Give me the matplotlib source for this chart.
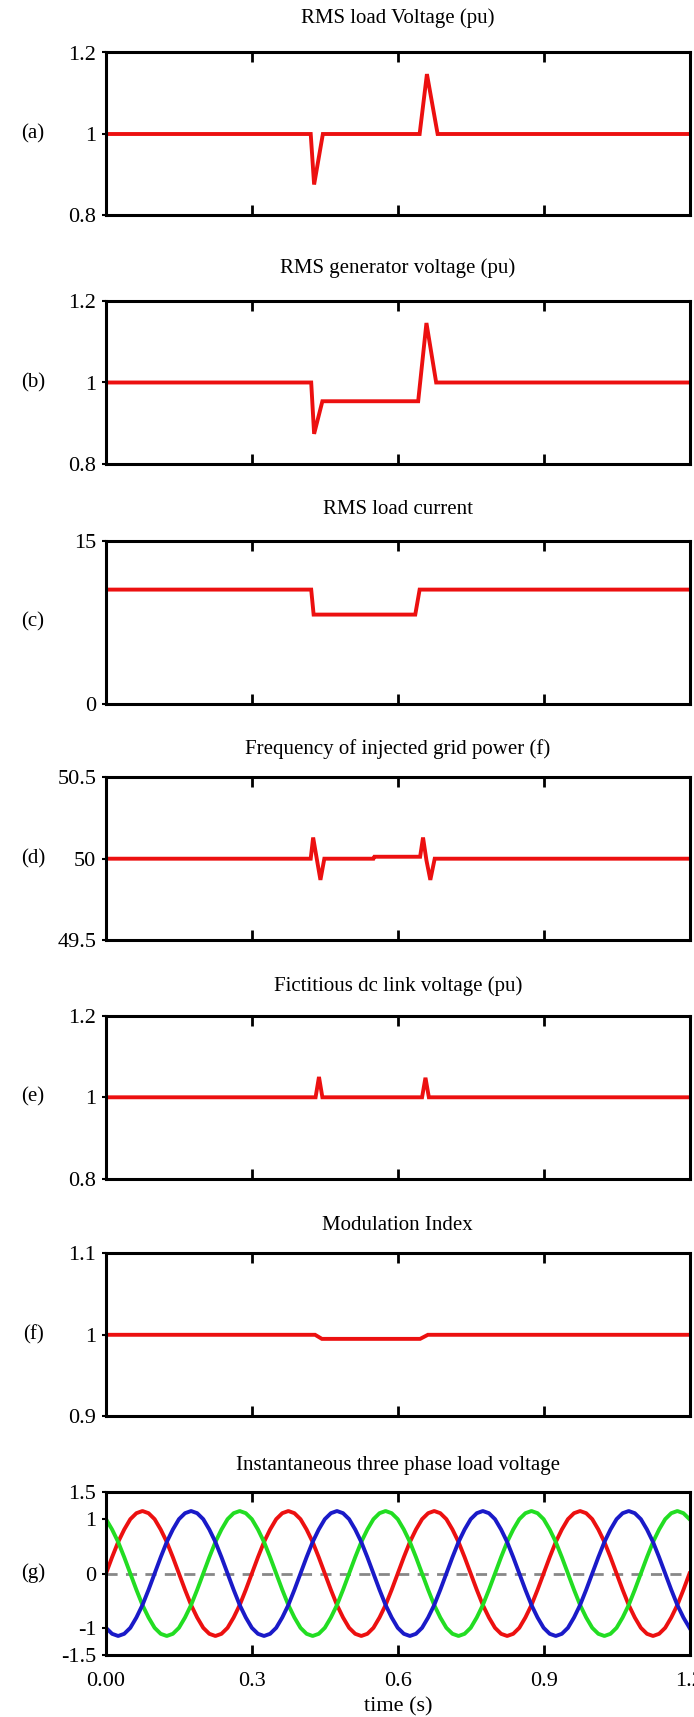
import matplotlib
matplotlib.use("Agg")
import matplotlib.pyplot as plt
import numpy as np

plt.rcParams['font.family'] = ['Liberation Serif', 'DejaVu Serif']
plt.rcParams['font.size'] = 16

# (a) RMS load voltage
t_a = [0, 0.421, 0.428, 0.446, 0.645, 0.660, 0.682, 1.2]
v_a = [1, 1, 0.876, 1, 1, 1.147, 1, 1]
# (b) RMS generator voltage
t_b = [0, 0.422, 0.428, 0.445, 0.642, 0.659, 0.679, 1.2]
v_b = [1, 1, 0.874, 0.954, 0.954, 1.146, 1, 1]
# (c) RMS load current
t_c = [0, 0.422, 0.427, 0.636, 0.645, 1.2]
v_c = [10.5, 10.5, 8.2, 8.2, 10.5, 10.5]
# (d) frequency
t_d = [0, 0.421, 0.426, 0.434, 0.441, 0.449, 0.55, 0.552, 0.646, 0.652, 0.659, 0.667, 0.676, 1.2]
v_d = [50, 50, 50.13, 49.99, 49.87, 50, 50, 50.012, 50.012, 50.13, 49.99, 49.87, 50, 50]
# (e) fictitious dc link voltage
t_e = [0, 0.431, 0.438, 0.445, 0.650, 0.657, 0.664, 1.2]
v_e = [1, 1, 1.05, 1, 1, 1.048, 1, 1]
# (f) modulation index
t_f = [0, 0.43, 0.444, 0.646, 0.662, 1.2]
v_f = [1, 1, 0.995, 0.995, 1, 1]

# (g) instantaneous three phase load voltage, sampled every 0.0125 s
t_g = np.arange(97) * 0.0125
v_red = [
    0, 0.30, 0.58, 0.81, 1.00, 1.11, 1.15, 1.11, 1.00, 0.81, 0.58, 0.30, 0, -0.30, -0.58, -0.81, -1.00, -1.11, -1.15, -1.11, -1.00, -0.81, -0.58, -0.30,
    0, 0.30, 0.58, 0.81, 1.00, 1.11, 1.15, 1.11, 1.00, 0.81, 0.58, 0.30, 0, -0.30, -0.58, -0.81, -1.00, -1.11, -1.15, -1.11, -1.00, -0.81, -0.58, -0.30,
    0, 0.30, 0.58, 0.81, 1.00, 1.11, 1.15, 1.11, 1.00, 0.81, 0.58, 0.30, 0, -0.30, -0.58, -0.81, -1.00, -1.11, -1.15, -1.11, -1.00, -0.81, -0.58, -0.30,
    0, 0.30, 0.58, 0.81, 1.00, 1.11, 1.15, 1.11, 1.00, 0.81, 0.58, 0.30, 0, -0.30, -0.58, -0.81, -1.00, -1.11, -1.15, -1.11, -1.00, -0.81, -0.58, -0.30,
    0]
v_blue = [
    -1.00, -1.11, -1.15, -1.11, -1.00, -0.81, -0.58, -0.30, 0, 0.30, 0.58, 0.81, 1.00, 1.11, 1.15, 1.11, 1.00, 0.81, 0.58, 0.30, 0, -0.30, -0.58, -0.81,
    -1.00, -1.11, -1.15, -1.11, -1.00, -0.81, -0.58, -0.30, 0, 0.30, 0.58, 0.81, 1.00, 1.11, 1.15, 1.11, 1.00, 0.81, 0.58, 0.30, 0, -0.30, -0.58, -0.81,
    -1.00, -1.11, -1.15, -1.11, -1.00, -0.81, -0.58, -0.30, 0, 0.30, 0.58, 0.81, 1.00, 1.11, 1.15, 1.11, 1.00, 0.81, 0.58, 0.30, 0, -0.30, -0.58, -0.81,
    -1.00, -1.11, -1.15, -1.11, -1.00, -0.81, -0.58, -0.30, 0, 0.30, 0.58, 0.81, 1.00, 1.11, 1.15, 1.11, 1.00, 0.81, 0.58, 0.30, 0, -0.30, -0.58, -0.81,
    -1.00]
v_green = [
    1.00, 0.81, 0.58, 0.30, 0, -0.30, -0.58, -0.81, -1.00, -1.11, -1.15, -1.11, -1.00, -0.81, -0.58, -0.30, 0, 0.30, 0.58, 0.81, 1.00, 1.11, 1.15, 1.11,
    1.00, 0.81, 0.58, 0.30, 0, -0.30, -0.58, -0.81, -1.00, -1.11, -1.15, -1.11, -1.00, -0.81, -0.58, -0.30, 0, 0.30, 0.58, 0.81, 1.00, 1.11, 1.15, 1.11,
    1.00, 0.81, 0.58, 0.30, 0, -0.30, -0.58, -0.81, -1.00, -1.11, -1.15, -1.11, -1.00, -0.81, -0.58, -0.30, 0, 0.30, 0.58, 0.81, 1.00, 1.11, 1.15, 1.11,
    1.00, 0.81, 0.58, 0.30, 0, -0.30, -0.58, -0.81, -1.00, -1.11, -1.15, -1.11, -1.00, -0.81, -0.58, -0.30, 0, 0.30, 0.58, 0.81, 1.00, 1.11, 1.15, 1.11,
    1.00]

titles = ['RMS load Voltage (pu)', 'RMS generator voltage (pu)', 'RMS load current',
          'Frequency of injected grid power (f)', 'Fictitious dc link voltage (pu)',
          'Modulation Index', 'Instantaneous three phase load voltage']
tags = ['(a)', '(b)', '(c)', '(d)', '(e)', '(f)', '(g)']
yticks = [[0.8, 1, 1.2], [0.8, 1, 1.2], [0, 15], [49.5, 50, 50.5],
          [0.8, 1, 1.2], [0.9, 1, 1.1], [-1.5, -1, 0, 1, 1.5]]
ylabels = [['0.8', '1', '1.2'], ['0.8', '1', '1.2'], ['0', '15'], ['49.5', '50', '50.5'],
           ['0.8', '1', '1.2'], ['0.9', '1', '1.1'], ['-1.5', '-1', '0', '1', '1.5']]
series = [(t_a, v_a), (t_b, v_b), (t_c, v_c), (t_d, v_d), (t_e, v_e), (t_f, v_f)]

W, H = 694, 1717
fig = plt.figure(figsize=(W / 100, H / 100), dpi=100)
red = '#ec1010'

left, right = 106, 689.5
tops = [52.5, 301, 540.7, 777.2, 1015.8, 1253.3, 1492]
pads = [21, 20, 19, 17, 18, 17, 16]
for k in range(7):
    top = tops[k]
    h = 163
    ax = fig.add_axes([left / W, 1 - (top + h) / H, (right - left) / W, h / H])
    if k < 6:
        ax.plot(series[k][0], series[k][1], color=red, lw=2.8, solid_joinstyle='miter')
    else:
        ax.axhline(0, color='#888888', lw=2, ls=(0, (4, 3)))
        ax.plot(t_g, v_red, color=red, lw=2.8)
        ax.plot(t_g, v_green, color='#22dd22', lw=2.8)
        ax.plot(t_g, v_blue, color='#1a1ac8', lw=2.8)
    ax.set_xlim(0, 1.2)
    ax.set_ylim(yticks[k][0], yticks[k][-1])
    ax.set_yticks(yticks[k])
    ax.set_yticklabels(ylabels[k])
    ax.set_xticks([0, 0.3, 0.6, 0.9, 1.2])
    ax.tick_params(axis='x', direction='in', top=True, length=7, width=2)
    ax.tick_params(axis='y', direction='out', length=3, width=1.5, pad=4)
    if k < 6:
        ax.tick_params(axis='x', labelbottom=False)
    else:
        ax.set_xticklabels(['0.00', '0.3', '0.6', '0.9', '1.2'])
        ax.tick_params(axis='x', pad=12)
        ax.set_xlabel('time (s)', labelpad=5)
    for s in ax.spines.values():
        s.set_linewidth(2.2)
    ax.set_title(titles[k], pad=pads[k], fontsize=15)
    fig.text(33 / W, 1 - (top + h / 2) / H, tags[k], ha='center', va='center', fontsize=15)

fig.savefig('out.png', dpi=100)
